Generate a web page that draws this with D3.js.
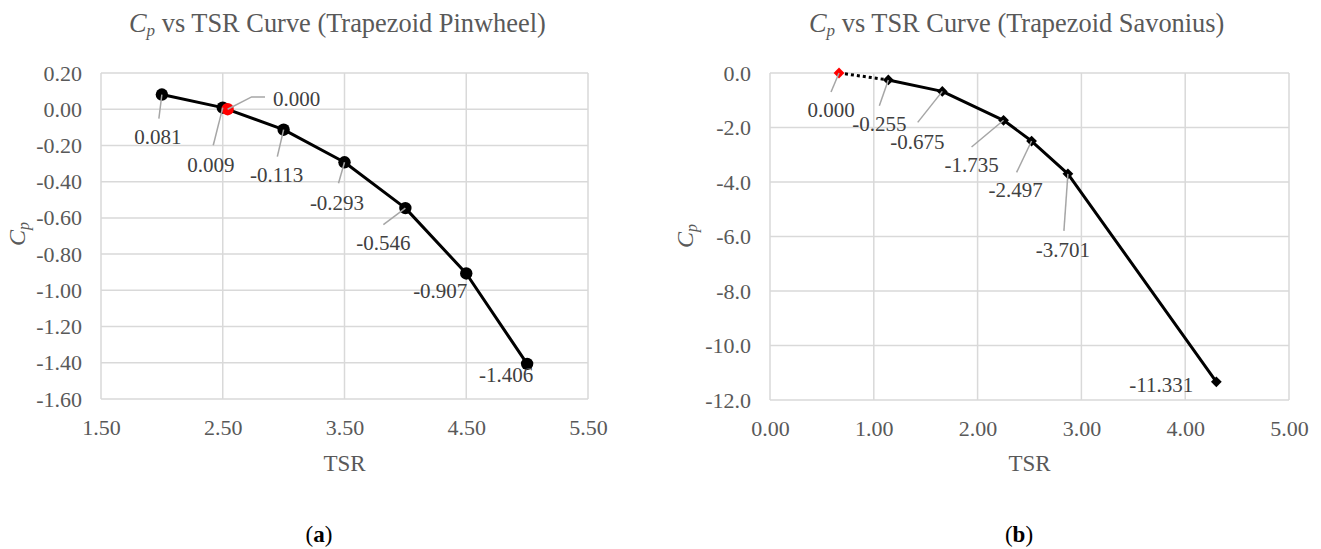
<!DOCTYPE html>
<html>
<head>
<meta charset="utf-8">
<script src="https://cdn.jsdelivr.net/npm/d3@7"></script>
<style>
  body { margin: 0; background: #fff; }
  svg { display: block; }
</style>
</head>
<body>
<svg id="fig" width="1321" height="549"></svg>
<script>
// ---- Trapezoid Pinwheel rotor ----
const pinwheelTSR = [2.0, 2.5, 3.0, 3.5, 4.0, 4.5, 5.0];
const pinwheelCp = [0.081, 0.009, -0.113, -0.293, -0.546, -0.907, -1.406];
const pinwheelZeroTSR = [2.54];
const pinwheelZeroCp = [0.000];
const pinwheelXTicks = [1.5, 2.5, 3.5, 4.5, 5.5];
const pinwheelYTicks = [0.2, 0.0, -0.2, -0.4, -0.6, -0.8, -1.0, -1.2, -1.4, -1.6];

// ---- Trapezoid Savonius rotor ----
const savoniusTSR = [1.14, 1.66, 2.25, 2.52, 2.87, 4.30];
const savoniusCp = [-0.255, -0.675, -1.735, -2.497, -3.701, -11.331];
const savoniusZeroTSR = [0.665];
const savoniusZeroCp = [0.000];
const savoniusXTicks = [0, 1, 2, 3, 4, 5];
const savoniusYTicks = [0, -2, -4, -6, -8, -10, -12];

// Data-label placement: label centre offset and leader-line end offset from the marker (px)
const pinwheelLabelPlace = [
  { dx: -4,  dy: 42,   lx: -3,   ly: 24 },
  { dx: -12, dy: 57,   lx: -9.5, ly: 37.6 },
  { dx: -7,  dy: 45,   lx: -6.3, ly: 27 },
  { dx: -7.5, dy: 40,  lx: -6,   ly: 21 },
  { dx: -22, dy: 35,   lx: -22,  ly: 16.5 },
  { dx: -26, dy: 17,   lx: null, ly: null },
  { dx: -21, dy: 10.5, lx: null, ly: null }
];
const pinwheelZeroPlace = [{ dx: 69, dy: -10.7, elbow: [24, -12.3], lx: 37.4, ly: -12.3 }];

const savoniusLabelPlace = [
  { dx: -9,  dy: 44,   lx: -9,    ly: 25.7 },
  { dx: -25, dy: 50,   lx: -24.6, ly: 31 },
  { dx: -32, dy: 44.5, lx: -32,   ly: 26.7 },
  { dx: -16, dy: 49,   lx: -15,   ly: 31.4 },
  { dx: -5,  dy: 76,   lx: -4,    ly: 57 },
  { dx: -55, dy: 3,    lx: null,  ly: null }
];
const savoniusZeroPlace = [{ dx: -8, dy: 37, elbow: null, lx: -8, ly: 19 }];

const svg = d3.select("#fig");
const SERIF = '"Liberation Serif", "Times New Roman", serif';
const GRID = "#d9d9d9", AXIS_TEXT = "#595959", LABEL_TEXT = "#404040", LEADER = "#a6a6a6";

function drawPanel(p) {
  const x = d3.scaleLinear().domain(p.xDomain).range([p.left, p.right]);
  const y = d3.scaleLinear().domain(p.yDomain).range([p.top, p.bottom]);
  const g = svg.append("g");

  // gridlines
  g.append("g").selectAll("line").data(p.yTicks).join("line")
    .attr("x1", p.left).attr("x2", p.right)
    .attr("y1", d => y(d)).attr("y2", d => y(d))
    .attr("stroke", GRID).attr("stroke-width", 1.5);
  g.append("g").selectAll("line").data(p.xTicks).join("line")
    .attr("y1", p.top).attr("y2", p.bottom)
    .attr("x1", d => x(d)).attr("x2", d => x(d))
    .attr("stroke", GRID).attr("stroke-width", 1.5);

  // axes (tick labels only)
  const yAxis = g.append("g").attr("transform", `translate(${p.left},0)`)
    .call(d3.axisLeft(y).tickValues(p.yTicks).tickSize(0).tickPadding(19)
      .tickFormat(d => d.toFixed(p.yDigits)));
  const xAxis = g.append("g").attr("transform", `translate(0,${p.bottom})`)
    .call(d3.axisBottom(x).tickValues(p.xTicks).tickSize(0).tickPadding(20)
      .tickFormat(d => d.toFixed(2)));
  [yAxis, xAxis].forEach(a => {
    a.select(".domain").remove();
    a.selectAll("text").attr("fill", AXIS_TEXT)
      .style("font-family", SERIF).style("font-size", "22px");
  });

  // title
  const t = g.append("text").attr("x", p.titleX).attr("y", 31.5)
    .attr("fill", AXIS_TEXT).style("font-family", SERIF).style("font-size", "26.4px");
  t.append("tspan").attr("font-style", "italic").text("C");
  t.append("tspan").attr("font-style", "italic").style("font-size", "17px").attr("dy", 4).text("p");
  t.append("tspan").attr("dy", -4).text(" vs TSR Curve (" + p.name + ")");

  // axis titles
  g.append("text").attr("x", (p.left + p.right) / 2).attr("y", 471)
    .attr("text-anchor", "middle").attr("fill", AXIS_TEXT)
    .style("font-family", SERIF).style("font-size", "23px").text("TSR");
  const yt = g.append("text")
    .attr("transform", `translate(${p.yTitleX},${p.yTitleY}) rotate(-90)`)
    .attr("text-anchor", "middle").attr("fill", AXIS_TEXT)
    .style("font-family", SERIF).style("font-size", "24px");
  yt.append("tspan").attr("font-style", "italic").text("C");
  yt.append("tspan").attr("font-style", "italic").style("font-size", "16px").attr("dy", 4).text("p");

  const pts = p.tsr.map((v, i) => ({ t: v, c: p.cp[i], place: p.place[i] }));
  const zero = p.zeroTSR.map((v, i) => ({ t: v, c: p.zeroCp[i], place: p.zeroPlace[i] }));

  // connecting lines
  const line = d3.line().x(d => x(d.t)).y(d => y(d.c));
  if (p.dottedLead) {
    g.append("path").attr("d", line([zero[0], pts[0]]))
      .attr("fill", "none").attr("stroke", "#000").attr("stroke-width", 3)
      .attr("stroke-dasharray", "3 3");
  }
  g.append("path").attr("d", line(pts))
    .attr("fill", "none").attr("stroke", "#000").attr("stroke-width", 3)
    .attr("stroke-linejoin", "round");

  // markers
  const marker = (sel, color) => {
    if (p.shape === "circle") {
      sel.append("circle").attr("cx", d => x(d.t)).attr("cy", d => y(d.c))
        .attr("r", 6.2).attr("fill", color);
    } else {
      sel.append("path").attr("d", d3.symbol(d3.symbolSquare, 58)())
        .attr("transform", d => `translate(${x(d.t)},${y(d.c)}) rotate(45)`)
        .attr("fill", color);
    }
  };
  marker(g.append("g").selectAll("g").data(pts).join("g"), "#000");
  marker(g.append("g").selectAll("g").data(zero).join("g"), "#ff0000");

  // leader lines
  const all = pts.concat(zero);
  g.append("g").selectAll("path").data(all.filter(d => d.place.lx !== null)).join("path")
    .attr("d", d => {
      const px = x(d.t), py = y(d.c);
      let s = `M${px},${py}`;
      if (d.place.elbow) s += `L${px + d.place.elbow[0]},${py + d.place.elbow[1]}`;
      return s + `L${px + d.place.lx},${py + d.place.ly}`;
    })
    .attr("fill", "none").attr("stroke", LEADER).attr("stroke-width", 1.5);

  // data labels
  g.append("g").selectAll("text").data(all).join("text")
    .attr("x", d => x(d.t) + d.place.dx).attr("y", d => y(d.c) + d.place.dy)
    .attr("dy", "0.35em").attr("text-anchor", "middle")
    .attr("fill", LABEL_TEXT).style("font-family", SERIF).style("font-size", "21px")
    .text(d => d.c.toFixed(3));

  // panel caption
  const cap = g.append("text").attr("x", p.capX).attr("y", 542)
    .attr("text-anchor", "middle").attr("fill", "#000")
    .style("font-family", SERIF).style("font-size", "23px");
  cap.append("tspan").text("(");
  cap.append("tspan").attr("font-weight", "bold").text(p.caption);
  cap.append("tspan").text(")");
}

drawPanel({
  name: "Trapezoid Pinwheel",
  tsr: pinwheelTSR, cp: pinwheelCp, zeroTSR: pinwheelZeroTSR, zeroCp: pinwheelZeroCp,
  place: pinwheelLabelPlace, zeroPlace: pinwheelZeroPlace,
  xTicks: pinwheelXTicks, yTicks: pinwheelYTicks,
  xDomain: [1.5, 5.5], yDomain: [0.2, -1.6], yDigits: 2,
  left: 101, right: 588, top: 73, bottom: 399,
  titleX: 129, yTitleX: 25, yTitleY: 234, capX: 319, caption: "a",
  shape: "circle", dottedLead: false
});

drawPanel({
  name: "Trapezoid Savonius",
  tsr: savoniusTSR, cp: savoniusCp, zeroTSR: savoniusZeroTSR, zeroCp: savoniusZeroCp,
  place: savoniusLabelPlace, zeroPlace: savoniusZeroPlace,
  xTicks: savoniusXTicks, yTicks: savoniusYTicks,
  xDomain: [0, 5], yDomain: [0, -12], yDigits: 1,
  left: 770, right: 1289, top: 73, bottom: 400,
  titleX: 809, yTitleX: 693, yTitleY: 236, capX: 1019, caption: "b",
  shape: "diamond", dottedLead: true
});
</script>
</body>
</html>
